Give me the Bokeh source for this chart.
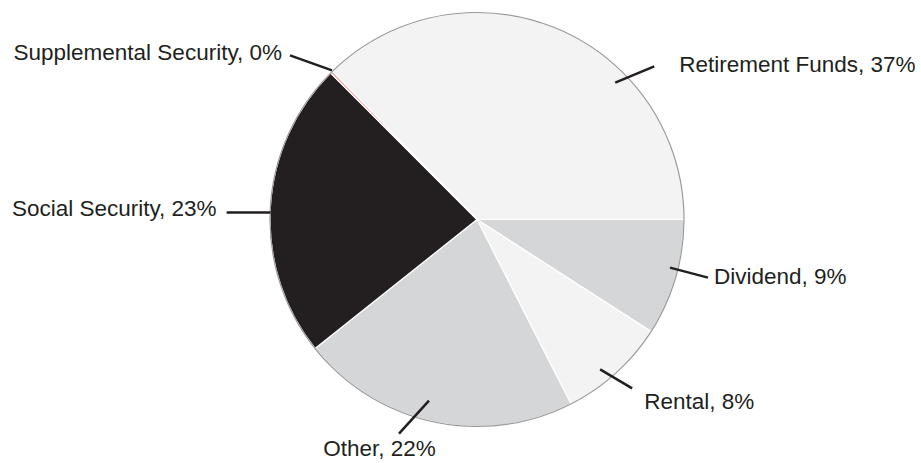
import math
from bokeh.plotting import figure
from bokeh.models import Range1d, ColumnDataSource
from bokeh.core.properties import value
from bokeh.embed import file_html
from bokeh.resources import INLINE

# ---- data ----
categories = ["Retirement Funds", "Dividend", "Rental", "Other", "Social Security", "Supplemental Security"]
shares = [37.3, 9.1, 8.4, 21.8, 23.2, 0.2]
pct_labels = ["37%", "9%", "8%", "22%", "23%", "0%"]

# ---- style ----
colors = ["#f3f3f3", "#d5d6d8", "#f3f3f3", "#d5d6d8", "#231f20", "#f2a3a3"]
W, H = 921, 463
# picture-pixel geometry
CX_PAGE, CY_PAGE, R = 476.5, 219.0, 207.0
START_CLOCK = 315.72  # clock degrees where first slice starts
FONT = value("Liberation Sans")
FONT_SIZE = "22.5px"
TEXT_SHIFT = -9  # baseline correction

def fx(xp):
    return xp

def fy(yp):
    return H - yp

cx, cy = fx(CX_PAGE), fy(CY_PAGE)

total = sum(shares)
starts, ends = [], []
acc = START_CLOCK
for s in shares:
    a0 = acc
    a1 = acc + s / total * 360.0
    starts.append(math.radians(90 - a0))
    ends.append(math.radians(90 - a1))
    acc = a1

src = ColumnDataSource(dict(start=starts, end=ends, color=colors, cat=categories))

p = figure(width=W, height=H, output_backend="svg", toolbar_location=None,
           x_range=Range1d(0, W), y_range=Range1d(0, H), min_border=0)
p.axis.visible = False
p.grid.visible = False
p.outline_line_color = None
p.background_fill_color = "white"
p.border_fill_color = "white"

p.wedge(x=cx, y=cy, radius=R, start_angle="start", end_angle="end", direction="clock",
        fill_color="color", line_color="white", line_width=1.2, source=src)
p.circle(x=[cx], y=[cy], radius=R, fill_color=None, line_color="#9a9a9a", line_width=1.2)

# label layout: inner point (clock angle, radius), outer offset (dx, dy), text offset, align
layout = {
    "Retirement Funds": (45.3, 194.5, (39, -16.3), (25, 7), "left"),
    "Dividend": (104.0, 198.9, (38, 10), (6, 8), "left"),
    "Rental": (140.6, 194.0, (32, 19), (12, 22), "left"),
    "Other": (194.85, 187.3, (-30, 33), (-19.5, 24), "center"),
    "Social Security": (271.95, 206.5, (-44, 0), (-10, 5), "right"),
    "Supplemental Security": (315.8, 208.0, (-42, -15), (-8, 6), "right"),
}

for cat, pct in zip(categories, pct_labels):
    ang, rr, (odx, ody), (tdx, tdy), align = layout[cat]
    ixp = CX_PAGE + rr * math.sin(math.radians(ang))
    iyp = CY_PAGE - rr * math.cos(math.radians(ang))
    oxp, oyp = ixp + odx, iyp + ody
    p.line(x=[fx(ixp), fx(oxp)], y=[fy(iyp), fy(oyp)], line_color="#231f20", line_width=2.5)
    p.text(x=[fx(oxp + tdx)], y=[fy(oyp + tdy + TEXT_SHIFT)], text=[f"{cat}, {pct}"],
           text_font=FONT, text_font_size=FONT_SIZE,
           text_color="#231f20", text_align=align, text_baseline="alphabetic")

open("out.html", "w").write(file_html(p, INLINE))
